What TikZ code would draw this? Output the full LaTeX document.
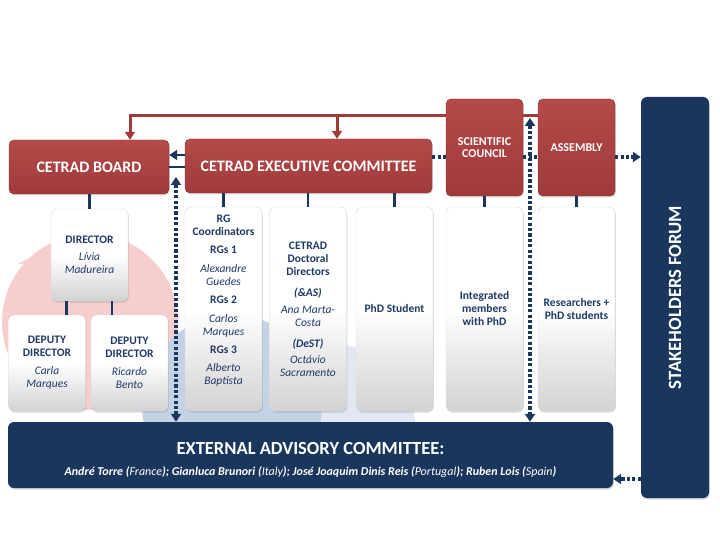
\documentclass[tikz,border=0pt]{standalone}
\usepackage{fontspec}
\setmainfont{Carlito}
\usetikzlibrary{arrows.meta, shadows, calc, backgrounds}

\definecolor{cetradnavy}{RGB}{27,54,93}
\definecolor{cetradred}{RGB}{160,58,58}
\definecolor{cetradredtop}{RGB}{180,74,74}
\definecolor{labelblue}{RGB}{31,58,102}
\definecolor{logopink}{RGB}{247,206,206}
\definecolor{logoblue}{RGB}{196,210,230}
\definecolor{logopale}{RGB}{226,231,243}

\begin{document}
\begin{tikzpicture}[x=1pt, y=-1pt,
    >={Triangle[length=8pt, width=10pt]},
    redbox/.style={draw=cetradred!85!black, line width=0.4pt, rounded corners=5pt,
      top color=cetradredtop, bottom color=cetradred, text=white, align=center,
      drop shadow={opacity=0.3, shadow xshift=0.8pt, shadow yshift=-1.5pt}},
    whitebox/.style={draw=gray!30, line width=0.4pt, rounded corners=6pt,
      top color=white, bottom color=gray!35, middle color=white,
      drop shadow={opacity=0.3, shadow xshift=0.8pt, shadow yshift=-1.5pt}},
    colbox/.style={whitebox, minimum width=77pt, minimum height=204pt},
    navybox/.style={fill=cetradnavy, rounded corners=6pt,
      drop shadow={opacity=0.3, shadow xshift=0.8pt, shadow yshift=-1.5pt}},
    boxlabel/.style={text=labelblue, align=center, font=\fontsize{11.5}{13}\selectfont},
    blueline/.style={cetradnavy, line width=2.6pt},
    dotline/.style={cetradnavy, line width=3.2pt, dash pattern=on 3.2pt off 2.2pt},
    redline/.style={cetradred, line width=3pt}]

    \useasboundingbox (0,0) rectangle (720,540);

    % Draw the faint logo behind the boxes
    \begin{scope}
        \clip (0,0) rectangle (720,422);
        \fill[logopink] (90,322) circle (88);
        \fill[logopink] (18,264) .. controls (45,248) and (80,244) .. (110,250)
            -- (104,276) .. controls (75,266) and (45,262) .. cycle;
        \fill[logopale] (335,425) circle (80);
        \fill[logoblue] (232,405) circle (90);
    \end{scope}

    % Draw the top row
    \node[redbox, minimum width=160pt, minimum height=54pt,
        font=\bfseries\fontsize{16}{19}\selectfont] (board) at (89,167) {CETRAD BOARD};
    \node[redbox, minimum width=247pt, minimum height=54pt,
        font=\bfseries\fontsize{16}{19}\selectfont] (exec) at (308.5,166) {CETRAD EXECUTIVE COMMITTEE};
    \node[redbox, minimum width=77pt, minimum height=97pt,
        font=\bfseries\fontsize{12}{12.5}\selectfont] (council) at (484.5,147.5) {SCIENTIFIC\\COUNCIL};
    \node[redbox, minimum width=77pt, minimum height=97pt,
        font=\bfseries\fontsize{12}{12.5}\selectfont] (assembly) at (576.5,147.5) {ASSEMBLY};

    % Draw the forum on the right
    \node[navybox, minimum width=68pt, minimum height=401pt] (forum) at (675,297.5) {};
    \node[rotate=90, text=white, font=\bfseries\fontsize{18.7}{21}\selectfont] (forumlabel)
        at (forum.center) {STAKEHOLDERS FORUM};

    % Draw the direction boxes
    \node[whitebox, minimum width=77pt, minimum height=92pt] (director) at (89.5,255) {};
    \node[boxlabel] (directorlabel) at (director.center)
        {\textbf{DIRECTOR}\\[4pt]\textit{Lívia}\\\textit{Madureira}};
    \node[whitebox, minimum width=77pt, minimum height=96pt] (dep1) at (47,363) {};
    \node[boxlabel] (dep1label) at (dep1.center)
        {\textbf{DEPUTY}\\\textbf{DIRECTOR}\\[5pt]\textit{Carla}\\\textit{Marques}};
    \node[whitebox, minimum width=77pt, minimum height=96pt] (dep2) at (129.5,363) {};
    \node[boxlabel] (dep2label) at (dep2.center)
        {\textbf{DEPUTY}\\\textbf{DIRECTOR}\\[5pt]\textit{Ricardo}\\\textit{Bento}};

    % Draw the columns
    \node[colbox] (rg) at (223.5,309) {};
    \node[boxlabel, yshift=8pt] (rglabel) at (rg.center)
        {\textbf{RG}\\\textbf{Coordinators}\\[5pt]\textbf{RGs 1}\\[6pt]\textit{Alexandre}\\\textit{Guedes}\\[5pt]%
         \textbf{RGs 2}\\[6pt]\textit{Carlos}\\\textit{Marques}\\[5pt]\textbf{RGs 3}\\[5pt]\textit{Alberto}\\\textit{Baptista}};
    \node[colbox] (doc) at (308,309) {};
    \node[boxlabel] (doclabel) at (doc.center)
        {\textbf{CETRAD}\\\textbf{Doctoral}\\\textbf{Directors}\\[8pt]\textbf{\textit{(\&AS)}}\\[4pt]%
         \textit{Ana Marta-}\\\textit{Costa}\\[8pt]\textbf{\textit{(DeST)}}\\[3pt]\textit{Octávio}\\\textit{Sacramento}};
    \node[colbox] (phd) at (394.5,309) {};
    \node[boxlabel] (phdlabel) at (phd.center) {\textbf{PhD Student}};
    \node[colbox] (integ) at (484.5,309) {};
    \node[boxlabel] (integlabel) at (integ.center) {\textbf{Integrated}\\\textbf{members}\\\textbf{with PhD}};
    \node[colbox] (res) at (576.5,309) {};
    \node[boxlabel] (reslabel) at (res.center) {\textbf{Researchers +}\\\textbf{PhD students}};

    % Draw the advisory committee
    \node[navybox, minimum width=605pt, minimum height=66pt] (eac) at (310.5,455) {};
    \node[text=white, font=\bfseries\fontsize{18.5}{21}\selectfont] (eactitle)
        at ([yshift=7pt]eac.center) {EXTERNAL ADVISORY COMMITTEE:};
    \node[text=white, font=\itshape\fontsize{12}{14}\selectfont] (eacnames) at ([yshift=-17pt]eac.center)
        {\textbf{André Torre (}France\textbf{); Gianluca Brunori (}Italy\textbf{); José Joaquim Dinis Reis (}Portugal\textbf{); Ruben Lois (}Spain\textbf{)}};

    % Draw the red links on the top
    \coordinate (redtop) at (130,116);
    \coordinate (redexec) at (337,116);
    \begin{scope}[on background layer]
        \fill[white] (0,0) rectangle (720,540);
        \draw[redline, ->] (assembly.west |- redtop) -- (redtop) -- (redtop |- board.north);
        \draw[redline, ->] (redexec) -- (redexec |- exec.north);
    \end{scope}

    % Draw the solid links
    \draw[blueline] (director.north |- board.south) -- (director.north);
    \coordinate (dirleft) at ($(director.south)!0.6!(director.south west)$);
    \coordinate (dirright) at ($(director.south)!0.58!(director.south east)$);
    \draw[blueline] (dirleft) -- (dirleft |- dep1.north);
    \draw[blueline] (dirright) -- (dirright |- dep2.north);
    \foreach \col in {rg, doc, phd}
        \draw[blueline] (\col.north |- exec.south) -- (\col.north);
    \draw[blueline] (council.south) -- (integ.north);
    \draw[blueline] (assembly.south) -- (res.north);
    \draw[blueline] (board.east) -- (board.east -| exec.west);
    \draw[blueline, ->] ([yshift=11pt]exec.west) -- ([yshift=11pt]exec.west -| board.east);

    % Draw the dotted links
    \coordinate (dotrow) at (0,157);
    \coordinate (leftdrop) at (176,177);
    \coordinate (rightdrop) at (530,118);
    \coordinate (forumrow) at (0,479);
    \draw[dotline] (exec.east |- dotrow) -- (council.west |- dotrow);
    \draw[dotline] (council.east |- dotrow) -- (assembly.west |- dotrow);
    \draw[dotline, ->] (assembly.east |- dotrow) -- (forum.west |- dotrow);
    \draw[dotline, <->] (leftdrop) -- (leftdrop |- eac.north);
    \draw[dotline, <->] (rightdrop) -- (rightdrop |- eac.north);
    \draw[dotline, ->] (forum.west |- forumrow) -- (eac.east |- forumrow);
\end{tikzpicture}
\end{document}
